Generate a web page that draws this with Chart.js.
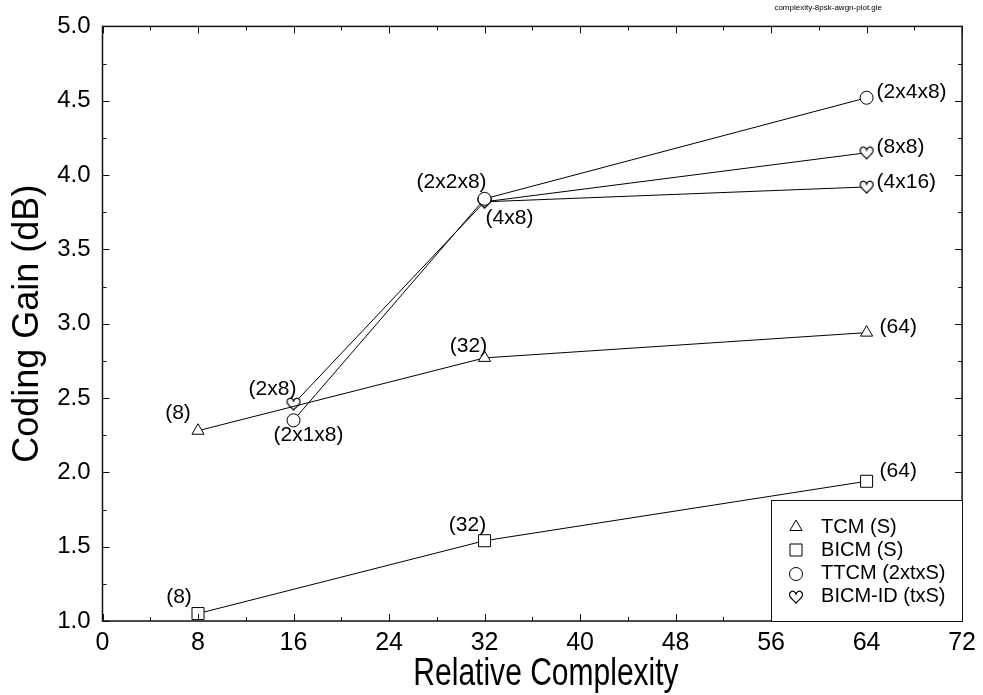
<!DOCTYPE html>
<html>
<head>
<meta charset="utf-8">
<script src="https://cdn.jsdelivr.net/npm/chart.js@4/dist/chart.umd.min.js"></script>
<style>
   html, body { margin: 0; padding: 0; background: #fff; }
   #wrap { width: 983px; height: 695px; position: relative; }
</style>
</head>
<body>
<div id="wrap"><canvas id="chart"></canvas></div>
<script>
const tcmX = [8, 32, 64]
const tcmY = [2.28, 2.77, 2.94]
const tcmLabels = ['(8)', '(32)', '(64)']

const bicmX = [8, 32, 64]
const bicmY = [1.05, 1.54, 1.94]
const bicmLabels = ['(8)', '(32)', '(64)']

const ttcmX = [16, 32, 64]
const ttcmY = [2.35, 3.84, 4.52]
const ttcmLabels = ['(2x1x8)', '(2x2x8)', '(2x4x8)']

const idX = [16, 32, 64]
const idY = [2.46, 3.82, 4.15]
const idLabels = ['(2x8)', '(4x8)', '(8x8)']

// second BICM-ID branch, 4x16 interleaver
const idBranchX = [32, 64]
const idBranchY = [3.82, 3.92]
const idBranchLabels = ['', '(4x16)']

const xTicks = [0, 8, 16, 24, 32, 40, 48, 56, 64, 72]
const yTicks = [1.0, 1.5, 2.0, 2.5, 3.0, 3.5, 4.0, 4.5, 5.0]
const legendNames = ['TCM (S)', 'BICM (S)', 'TTCM (2xtxS)', 'BICM-ID (txS)']

const xTitle = 'Relative Complexity'
const yTitle = 'Coding Gain (dB)'
const fileName = 'complexity-8psk-awgn-plot.gle'

// label placement relative to each point: [dx, dy, align]
const labelPlace = {
   tcm: [[-20, -18, 'center'], [-16, -12, 'center'], [13, -5, 'left']],
   bicm: [[-19, -16, 'center'], [-17, -16, 'center'], [13, -10, 'left']],
   ttcm: [[15, 15, 'center'], [-33, -17, 'center'], [10, -6, 'left']],
   id: [[-21, -15, 'center'], [25, 16, 'center'], [10, -6, 'left']],
   idBranch: [[0, 0, 'left'], [10, -5, 'left']]
}

const FONT = '"Liberation Sans", Arial, sans-serif'

const heart = (() => {
   const c = document.createElement('canvas')
   c.width = 16
   c.height = 16
   const g = c.getContext('2d')
   g.fillStyle = '#fff'
   g.strokeStyle = '#000'
   g.lineWidth = 1.2
   g.beginPath()
   g.moveTo(8, 14)
   g.bezierCurveTo(5.5, 11, 1.5, 9, 1.5, 5.5)
   g.bezierCurveTo(1.5, 2.8, 4.2, 1.6, 6, 2.6)
   g.bezierCurveTo(7, 3.2, 7.7, 4.2, 8, 5.2)
   g.bezierCurveTo(8.3, 4.2, 9, 3.2, 10, 2.6)
   g.bezierCurveTo(11.8, 1.6, 14.5, 2.8, 14.5, 5.5)
   g.bezierCurveTo(14.5, 9, 10.5, 11, 8, 14)
   g.closePath()
   g.fill()
   g.stroke()
   return c
})()

const toPoints = (xs, ys) => xs.map((x, i) => ({ x, y: ys[i] }))

const series = (key, xs, ys, labels, mark) => ({
   key,
   labels,
   data: toPoints(xs, ys),
   borderColor: '#000',
   borderWidth: 1,
   backgroundColor: '#fff',
   pointStyle: mark.pointStyle,
   pointRadius: mark.radius,
   pointBorderWidth: 1,
   pointBackgroundColor: '#fff',
   pointBorderColor: '#000',
   tension: 0
})

const markers = [
   { pointStyle: 'triangle', radius: 7 },
   { pointStyle: 'rect', radius: 8.5 },
   { pointStyle: 'circle', radius: 6.5 },
   { pointStyle: heart, radius: 7 }
]

const framePlugin = {
   id: 'frame',
   afterDraw(chart) {
      const { ctx, chartArea: a, scales: { x, y } } = chart
      ctx.save()
      ctx.strokeStyle = '#111'
      ctx.lineWidth = 1
      ctx.beginPath()
      // inward ticks on all four sides, minor ones in between
      for (let v = 0; v <= 72; v += 4) {
         const px = Math.round(x.getPixelForValue(v)) + 0.5
         const len = v % 8 === 0 ? 7 : 4
         ctx.moveTo(px, a.bottom); ctx.lineTo(px, a.bottom - len)
         ctx.moveTo(px, a.top); ctx.lineTo(px, a.top + len)
      }
      for (let v = 1; v <= 5.001; v += 0.25) {
         const py = Math.round(y.getPixelForValue(v)) + 0.5
         const len = Math.abs(v * 2 - Math.round(v * 2)) < 0.01 ? 7 : 4
         ctx.moveTo(a.left, py); ctx.lineTo(a.left + len, py)
         ctx.moveTo(a.right, py); ctx.lineTo(a.right - len, py)
      }
      ctx.stroke()
      ctx.lineWidth = 1.5
      ctx.strokeRect(a.left, a.top, a.right - a.left, a.bottom - a.top)

      // legend box in the lower right corner
      const bx = a.right - 191, by = a.bottom - 121
      ctx.fillStyle = '#fff'
      ctx.fillRect(bx, by, a.right - bx, a.bottom - by)
      ctx.lineWidth = 1
      ctx.strokeRect(Math.round(bx) + 0.5, Math.round(by) + 0.5, a.right - bx, a.bottom - by)
      ctx.font = '20px ' + FONT
      ctx.textBaseline = 'middle'
      ctx.textAlign = 'left'
      legendNames.forEach((name, i) => {
         const ry = by + 27 + i * 23.3
         ctx.strokeStyle = '#000'
         ctx.fillStyle = '#fff'
         ctx.lineWidth = 1
         Chart.helpers.drawPoint(ctx, {
            pointStyle: markers[i].pointStyle,
            radius: markers[i].radius,
            rotation: 0,
            borderWidth: 1
         }, Math.round(bx + 25), Math.round(ry))
         ctx.fillStyle = '#000'
         ctx.fillText(name, bx + 50, ry)
      })

      // x title, set in a condensed face like the original
      ctx.font = '38px ' + FONT
      ctx.textAlign = 'center'
      ctx.textBaseline = 'alphabetic'
      ctx.save()
      ctx.translate(546, 685)
      ctx.scale(0.79, 1)
      ctx.fillText(xTitle, 0, 0)
      ctx.restore()

      ctx.font = '8px ' + FONT
      ctx.textAlign = 'right'
      ctx.textBaseline = 'middle'
      ctx.fillText(fileName, 882, 8)
      ctx.restore()
   }
}

const labelPlugin = {
   id: 'pointLabels',
   afterDatasetsDraw(chart) {
      const { ctx } = chart
      ctx.save()
      ctx.font = '21px ' + FONT
      ctx.fillStyle = '#000'
      ctx.textBaseline = 'middle'
      chart.data.datasets.forEach((ds, di) => {
         const meta = chart.getDatasetMeta(di)
         const place = labelPlace[ds.key]
         ds.labels.forEach((txt, i) => {
            if (!txt) return
            const p = meta.data[i]
            const [dx, dy, align] = place[i]
            ctx.textAlign = align
            ctx.fillText(txt, p.x + dx, p.y + dy)
         })
      })
      ctx.restore()
   }
}

const ctx = document.getElementById('chart').getContext('2d')
new Chart(ctx, {
   type: 'line',
   data: {
      datasets: [
         series('tcm', tcmX, tcmY, tcmLabels, markers[0]),
         series('bicm', bicmX, bicmY, bicmLabels, markers[1]),
         series('ttcm', ttcmX, ttcmY, ttcmLabels, markers[2]),
         series('id', idX, idY, idLabels, markers[3]),
         series('idBranch', idBranchX, idBranchY, idBranchLabels, markers[3])
      ]
   },
   options: {
      responsive: true,
      maintainAspectRatio: false,
      animation: false,
      layout: { padding: { top: 19, right: 20, left: 0, bottom: 0 } },
      plugins: {
         legend: { display: false },
         tooltip: { enabled: false }
      },
      scales: {
         x: {
            type: 'linear',
            min: 0,
            max: 72,
            afterBuildTicks: scale => { scale.ticks = xTicks.map(v => ({ value: v })) },
            afterFit: scale => { scale.height = 74 },
            grid: { display: false, drawTicks: false },
            border: { display: false },
            ticks: {
               color: '#000',
               padding: 7,
               font: { family: FONT, size: 25 }
            }
         },
         y: {
            type: 'linear',
            min: 1,
            max: 5,
            afterBuildTicks: scale => { scale.ticks = yTicks.map(v => ({ value: v })) },
            afterFit: scale => { scale.width = 102.5 },
            grid: { display: false, drawTicks: false },
            border: { display: false },
            ticks: {
               color: '#000',
               padding: 12,
               callback: v => v.toFixed(1),
               font: { family: FONT, size: 24 }
            },
            title: {
               display: true,
               text: yTitle,
               color: '#000',
               padding: { top: 6, bottom: 0 },
               font: { family: FONT, size: 36 }
            }
         }
      }
   },
   plugins: [labelPlugin, framePlugin]
})
</script>
</body>
</html>
